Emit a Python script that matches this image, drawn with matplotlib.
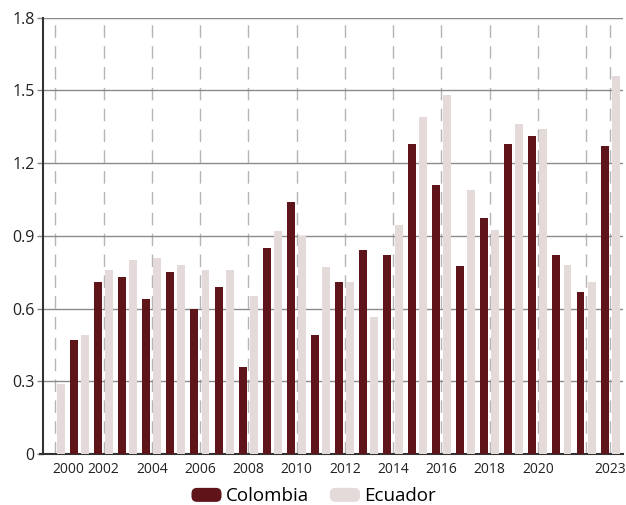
import numpy as np
import matplotlib
matplotlib.use("Agg")
import matplotlib.pyplot as plt
from matplotlib.patches import FancyBboxPatch, Rectangle
from matplotlib.legend_handler import HandlerPatch

plt.rcParams['font.family'] = ['Open Sans', 'DejaVu Sans']

years = list(range(2000, 2024))
colombia = [np.nan, 0.47, 0.71, 0.73, 0.64, 0.75, 0.60, 0.69, 0.36, 0.85,
            1.04, 0.49, 0.71, 0.84, 0.82, 1.28, 1.11, 0.775, 0.975, 1.28,
            1.31, 0.82, 0.67, 1.27]
ecuador = [0.29, 0.49, 0.76, 0.80, 0.81, 0.78, 0.76, 0.76, 0.65, 0.92,
           0.90, 0.77, 0.71, 0.565, 0.945, 1.39, 1.48, 1.09, 0.925, 1.36,
           1.34, 0.78, 0.71, 1.56]
tick_years = [2000, 2002, 2004, 2006, 2008, 2010, 2012, 2014, 2016, 2018, 2020, 2022, 2023]
tick_labels = ['', '2002', '2004', '2006', '2008', '2010', '2012', '2014',
               '2016', '2018', '2020', '', '2023']
first_label = '2000'
y_ticks = [0, 0.3, 0.6, 0.9, 1.2, 1.5, 1.8]
y_labels = ['0', '0.3', '0.6', '0.9', '1.2', '1.5', '1.8']

dark = '#5e1418'
light = '#e4dada'

fig = plt.figure(figsize=(6.26, 5.05), dpi=100)
ax = fig.add_axes([0.069, 0.101, 0.926, 0.864])

x = np.array(years, dtype=float)
w = 0.33
ax.bar(x - 0.235, colombia, width=w, color=dark, zorder=3)
ax.bar(x + 0.225, ecuador, width=w, color=light, zorder=3)

ax.set_xlim(1999.5, 2023.52)
ax.set_ylim(0, 1.8)
ax.set_yticks(y_ticks)
ax.set_yticklabels(y_labels, fontsize=11.5, color='#222222')
ax.set_xticks(tick_years)
ax.set_xticklabels(tick_labels, fontsize=10, color='#222222')
# the 2000 label sits right of its gridline, like in the source
ax.text(1999.88, -0.019, first_label, transform=ax.get_xaxis_transform(),
        ha='left', va='top', fontsize=10, color='#222222')

ax.tick_params(axis='x', length=0, pad=6)
ax.tick_params(axis='y', length=4, color='#888888', width=1, pad=2)

ax.grid(axis='y', color='#8a8a8a', linewidth=1, linestyle='-', zorder=1)
ax.grid(axis='x', color='#b5b5b5', linewidth=1, linestyle=(0, (9, 6)), zorder=1)

for s in ['top', 'right']:
    ax.spines[s].set_visible(False)
ax.spines['left'].set_color('#333333')
ax.spines['left'].set_linewidth(1.5)
ax.spines['bottom'].set_color('#333333')
ax.spines['bottom'].set_linewidth(1.5)
ax.spines['bottom'].set_bounds(1999.37, 2023.52)


class RoundHandler(HandlerPatch):
    def create_artists(self, legend, orig_handle, xdescent, ydescent,
                       width, height, fontsize, trans):
        p = FancyBboxPatch((-xdescent + 1, -ydescent + 1), width - 2, height - 2,
                           boxstyle='round,pad=0,rounding_size=4',
                           facecolor=orig_handle.get_facecolor(),
                           edgecolor='none', transform=trans)
        return [p]


handles = [Rectangle((0, 0), 1, 1, facecolor=dark),
           Rectangle((0, 0), 1, 1, facecolor=light)]
labels = ['Colombia', 'Ecuador']
leg = fig.legend(handles, labels, loc='lower center', bbox_to_anchor=(0.5, -0.034),
                 ncol=2, frameon=False, fontsize=13.5, handlelength=1.75,
                 handleheight=1.0, handletextpad=0.15, columnspacing=1.05,
                 handler_map={Rectangle: RoundHandler()})

fig.savefig('out.png', dpi=100)
